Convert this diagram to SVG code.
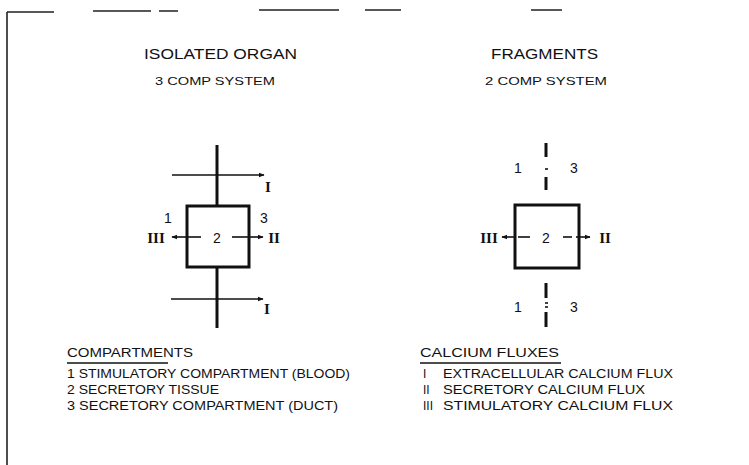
<svg xmlns="http://www.w3.org/2000/svg" width="749" height="465" viewBox="0 0 749 465">
<defs>
<style>
.t{font-family:"Liberation Sans",Arial,sans-serif;fill:#111;}
.title{font-size:14px;}
.sub{font-size:11px;}
.leg{font-size:12px;}
.num{font-size:14px;}
.rom{font-family:"Liberation Serif","Times New Roman",serif;font-size:15px;font-weight:bold;fill:#111;}
.box{fill:none;stroke:#111;stroke-width:3;}
.axis{stroke:#111;stroke-width:3;fill:none;}
.arr{stroke:#111;stroke-width:1.6;fill:none;}
.frame{stroke:#222;stroke-width:1.6;fill:none;}
</style>
<marker id="ah" viewBox="0 0 10 10" refX="9" refY="5" markerWidth="6" markerHeight="6" orient="auto" markerUnits="userSpaceOnUse">
<path d="M0,1 L10,5 L0,9 Z" fill="#111"/>
</marker>
</defs>
<rect width="749" height="465" fill="#fff"/>
<g id="frame">
<path class="frame" d="M7,12 V465 M7,12 H54 M93,11 H151 M159,11 H178 M259,10 H339 M365,10 H401 M531,10 H562"/>
</g>
<g id="titles">
<text class="t title" x="220.5" y="59" text-anchor="middle" textLength="153" lengthAdjust="spacingAndGlyphs">ISOLATED ORGAN</text>
<text class="t sub" x="215" y="85" text-anchor="middle" textLength="120" lengthAdjust="spacingAndGlyphs">3 COMP SYSTEM</text>
<text class="t title" x="544.5" y="59" text-anchor="middle" textLength="107" lengthAdjust="spacingAndGlyphs">FRAGMENTS</text>
<text class="t sub" x="546" y="85" text-anchor="middle" textLength="122" lengthAdjust="spacingAndGlyphs">2 COMP SYSTEM</text>
</g>
<g id="connectors">
<line class="axis" x1="217" y1="145" x2="217" y2="206"/>
<line class="axis" x1="217" y1="268" x2="217" y2="328"/>
<line class="arr" x1="172" y1="175" x2="264" y2="175" marker-end="url(#ah)"/>
<line class="arr" x1="171" y1="299" x2="263" y2="299" marker-end="url(#ah)"/>
<line class="arr" x1="201" y1="237" x2="172" y2="237" marker-end="url(#ah)"/>
<line class="arr" x1="232" y1="237" x2="263" y2="237" marker-end="url(#ah)"/>
<line class="axis" x1="546" y1="143" x2="546" y2="157"/>
<line class="arr" x1="545" y1="169" x2="548" y2="169"/>
<line class="axis" x1="546" y1="177" x2="546" y2="190"/>
<line class="axis" x1="546" y1="283" x2="546" y2="298"/>
<line class="arr" x1="545" y1="303" x2="548" y2="303"/>
<line class="arr" x1="545" y1="307" x2="548" y2="307"/>
<line class="axis" x1="546" y1="312" x2="546" y2="327"/>
<line class="arr" x1="530" y1="237" x2="518" y2="237"/>
<line class="arr" x1="515" y1="237" x2="502" y2="237" marker-end="url(#ah)"/>
<line class="arr" x1="563" y1="237" x2="572" y2="237"/>
<line class="arr" x1="576" y1="237" x2="590" y2="237" marker-end="url(#ah)"/>
</g>
<g id="organ">
<rect class="box" x="187" y="206" width="62" height="61"/>
<text class="t num" x="217" y="243" text-anchor="middle">2</text>
</g>
<g id="organ-labels">
<text class="t num" x="168" y="223" text-anchor="middle">1</text>
<text class="t num" x="264" y="223" text-anchor="middle">3</text>
<text class="rom" x="156" y="243" text-anchor="middle">III</text>
<text class="rom" x="274" y="243" text-anchor="middle">II</text>
<text class="rom" x="268" y="192" text-anchor="middle">I</text>
<text class="rom" x="267" y="314" text-anchor="middle">I</text>
</g>
<g id="fragment">
<rect class="box" x="515" y="205" width="64" height="63"/>
<text class="t num" x="546" y="243" text-anchor="middle">2</text>
</g>
<g id="fragment-labels">
<text class="t num" x="518" y="173" text-anchor="middle">1</text>
<text class="t num" x="574" y="173" text-anchor="middle">3</text>
<text class="t num" x="518" y="312" text-anchor="middle">1</text>
<text class="t num" x="574" y="312" text-anchor="middle">3</text>
<text class="rom" x="489" y="243" text-anchor="middle">III</text>
<text class="rom" x="605" y="243" text-anchor="middle">II</text>
</g>
<g id="legend-compartments">
<text class="t leg" x="67" y="357" textLength="126" lengthAdjust="spacingAndGlyphs">COMPARTMENTS</text>
<line class="arr" x1="67" y1="363" x2="168" y2="363" stroke-width="1.2"/>
<text class="t leg" x="67" y="378" textLength="283" lengthAdjust="spacingAndGlyphs">1 STIMULATORY COMPARTMENT (BLOOD)</text>
<text class="t leg" x="67" y="394" textLength="152" lengthAdjust="spacingAndGlyphs">2 SECRETORY TISSUE</text>
<text class="t leg" x="67" y="410" textLength="271" lengthAdjust="spacingAndGlyphs">3 SECRETORY COMPARTMENT (DUCT)</text>
</g>
<g id="legend-fluxes">
<text class="t leg" x="420" y="357" textLength="139" lengthAdjust="spacingAndGlyphs">CALCIUM FLUXES</text>
<line class="arr" x1="420" y1="363" x2="561" y2="363" stroke-width="1.2"/>
<text class="t leg" x="423" y="378">I</text>
<text class="t leg" x="443" y="378" textLength="230" lengthAdjust="spacingAndGlyphs">EXTRACELLULAR CALCIUM FLUX</text>
<text class="t leg" x="423" y="394">II</text>
<text class="t leg" x="443" y="394" textLength="202" lengthAdjust="spacingAndGlyphs">SECRETORY CALCIUM FLUX</text>
<text class="t leg" x="423" y="410">III</text>
<text class="t leg" x="443" y="410" textLength="230" lengthAdjust="spacingAndGlyphs">STIMULATORY CALCIUM FLUX</text>
</g>
</svg>
